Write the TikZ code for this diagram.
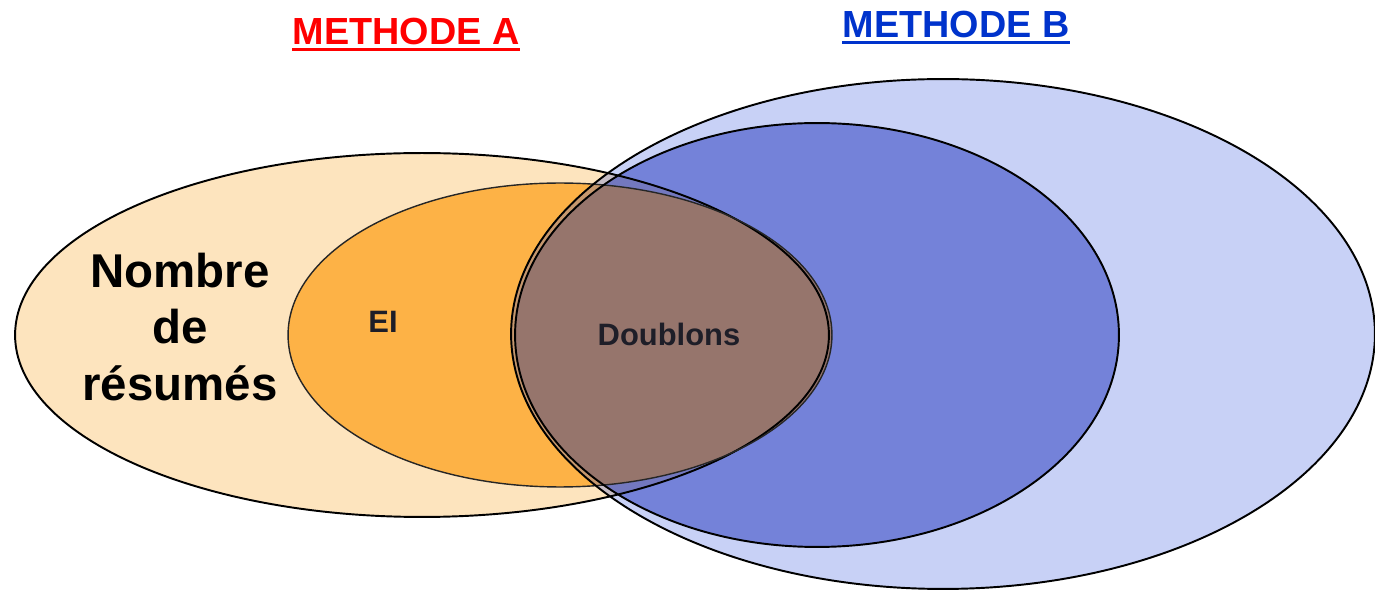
\documentclass[tikz,border=0pt]{standalone}
\usepackage{fontspec}
\setmainfont{Liberation Sans}
\definecolor{peach}{RGB}{253,228,190}
\definecolor{orangeA}{RGB}{253,178,70}
\definecolor{blueA}{RGB}{51,85,221}
\definecolor{blueB}{RGB}{25,45,185}
\definecolor{overlapC}{RGB}{150,117,108}
\definecolor{redT}{RGB}{255,0,0}
\definecolor{blueT}{RGB}{0,51,204}
\definecolor{darkT}{RGB}{30,30,40}
\begin{document}
\begin{tikzpicture}[x=0.02cm,y=-0.02cm,
  outline/.style={draw=black,line width=1.1pt},
  thinline/.style={draw=black!85,line width=0.8pt},
  title/.style={inner sep=0pt,anchor=base,font=\bfseries\fontsize{21.5}{24}\selectfont},
  label/.style={inner sep=0pt,anchor=base,text=darkT,font=\bfseries\fontsize{17.6}{20}\selectfont}]
\useasboundingbox (0,0) rectangle (1375,590);
% fills
\fill[peach] (422,335) ellipse [x radius=8.14cm, y radius=3.64cm];
\fill[orangeA] (560,335) ellipse [x radius=5.44cm, y radius=3.04cm];
\fill[blueA, fill opacity=0.27] (943,334) ellipse [x radius=8.64cm, y radius=5.10cm];
\fill[blueB, fill opacity=0.48] (817,335) ellipse [x radius=6.04cm, y radius=4.24cm];
\begin{scope}
  \clip (560,335) ellipse [x radius=5.44cm, y radius=3.04cm];
  \fill[overlapC] (817,335) ellipse [x radius=6.04cm, y radius=4.24cm];
\end{scope}
% outlines
\draw[outline] (422,335) ellipse [x radius=8.14cm, y radius=3.64cm];
\draw[thinline] (560,335) ellipse [x radius=5.44cm, y radius=3.04cm];
\draw[outline] (943,334) ellipse [x radius=8.64cm, y radius=5.10cm];
\draw[outline] (817,335) ellipse [x radius=6.04cm, y radius=4.24cm];
% texts
\node[title,text=redT] (mA) at (406,45) {METHODE A};
\draw[redT,line width=0.07cm] ([yshift=-0.09cm]mA.base west) -- ([yshift=-0.09cm]mA.base east);
\node[title,text=blueT] (mB) at (956,38) {METHODE B};
\draw[blueT,line width=0.07cm] ([yshift=-0.09cm]mB.base west) -- ([yshift=-0.09cm]mB.base east);
\node[inner sep=0pt,align=center,font=\bfseries\fontsize{27}{32.4}\selectfont] (nb) at (180,327) {Nombre\\de\\résumés};
\node[label] (ei) at (383,333) {EI};
\node[label] (db) at (669,346) {Doublons};
\end{tikzpicture}
\end{document}
